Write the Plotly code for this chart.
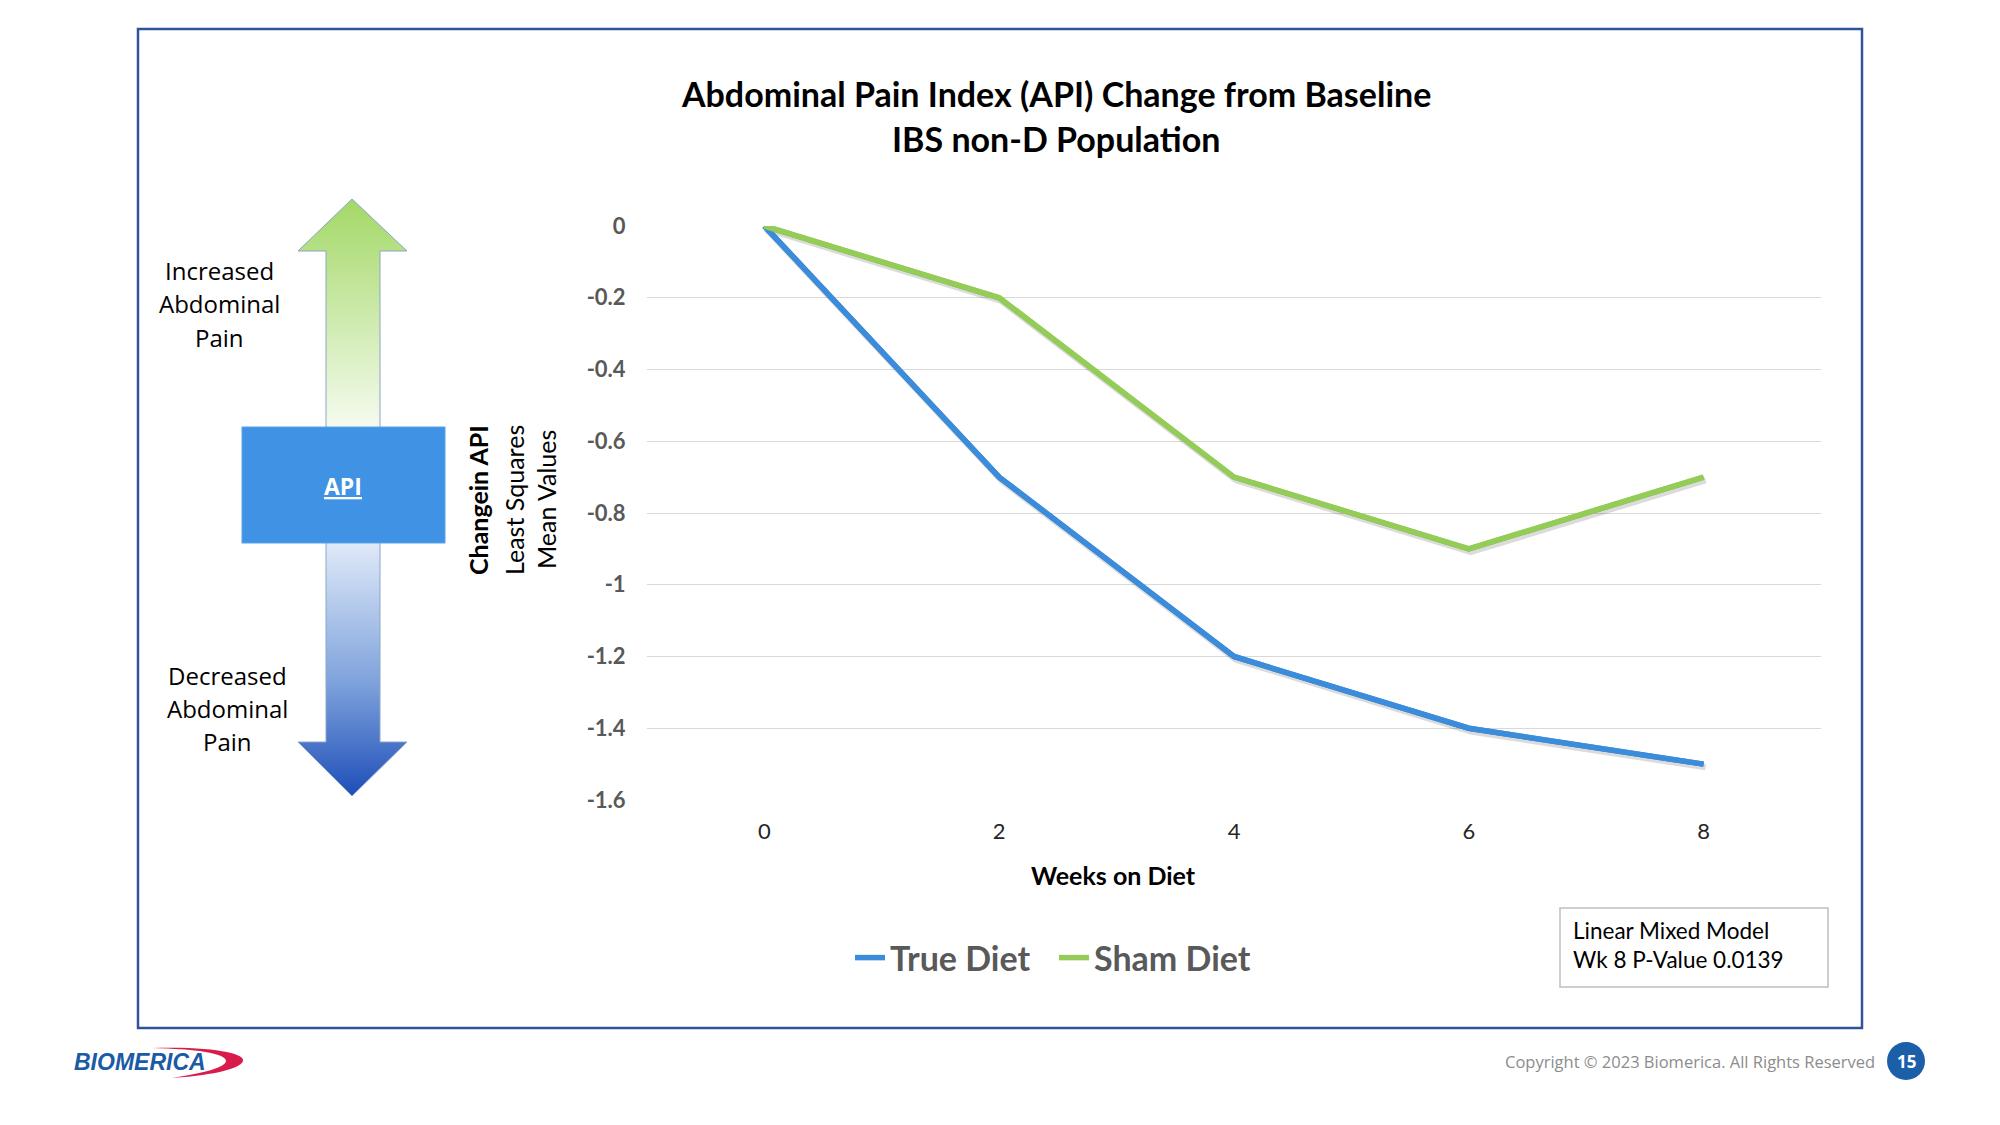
import base64
import plotly.graph_objects as go

# ---------------- data ----------------
weeks = [0, 2, 4, 6, 8]
true_diet = [0, -0.7, -1.2, -1.4, -1.5]
sham_diet = [0, -0.2, -0.7, -0.9, -0.7]
y_ticks = [0, -0.2, -0.4, -0.6, -0.8, -1.0, -1.2, -1.4, -1.6]
y_tick_labels = ["0", "-0.2", "-0.4", "-0.6", "-0.8", "-1", "-1.2", "-1.4", "-1.6"]
series_names = ["True Diet", "Sham Diet"]
series_colors = ["#3C8CDC", "#94CC58"]

W, H = 2000, 1125
FONT = "Lato"


def px(x):
    return x / W


def py(y):
    return 1 - y / H


fig = go.Figure()
series = [true_diet, sham_diet]
legends = ["legend", "legend2"]
# main axes: the series with legend entries
for vals, name, col, lg in zip(series, series_names, series_colors, legends):
    fig.add_trace(go.Scatter(x=weeks, y=vals, mode="lines", name=name,
                             line=dict(color=col, width=5.5), cliponaxis=False, legend=lg))
# soft drop shadow (same data on an overlay axis pair shifted by a few pixels)
for vals in series:
    fig.add_trace(go.Scatter(x=weeks, y=vals, mode="lines", xaxis="x2", yaxis="y2",
                             line=dict(color="rgba(0,0,0,0.14)", width=6.5),
                             showlegend=False, hoverinfo="skip", cliponaxis=False))
# the series again on top of the shadow
for vals, col in zip(series, series_colors):
    fig.add_trace(go.Scatter(x=weeks, y=vals, mode="lines", xaxis="x3", yaxis="y3",
                             line=dict(color=col, width=5.5), showlegend=False,
                             hoverinfo="skip", cliponaxis=False))

# decorative arrows / box / logo swoosh as an inline svg
svg = f'''<svg xmlns="http://www.w3.org/2000/svg" width="{W}" height="{H}" viewBox="0 0 {W} {H}">
<defs>
<linearGradient id="g1" x1="0" y1="0" x2="0" y2="1">
<stop offset="0" stop-color="#A3D866"/><stop offset="1" stop-color="#F5FBEF"/></linearGradient>
<linearGradient id="g2" x1="0" y1="0" x2="0" y2="1">
<stop offset="0" stop-color="#E0EAF8"/><stop offset="0.55" stop-color="#7FA3DC"/><stop offset="1" stop-color="#1E4EB8"/></linearGradient>
</defs>
<polygon points="352,199 407,251 380,251 380,428 326,428 326,251 298,251" fill="url(#g1)" stroke="#8AA6C6" stroke-width="1"/>
<polygon points="326,542 380,542 380,742 407,742 352,796 298,742 326,742" fill="url(#g2)" stroke="#8AA6C6" stroke-width="1"/>
<rect x="242" y="427" width="203" height="116" fill="#3F92E4" stroke="#5DA3EA" stroke-width="1"/>
<path d="M 152 1048 C 215 1046 246 1054 243 1061 C 240 1070 205 1076 172 1078 C 205 1073 226 1067 226 1061 C 226 1053 195 1049 152 1048 Z" fill="#D81B4B"/>
</svg>'''
src = "data:image/svg+xml;base64," + base64.b64encode(svg.encode()).decode()
fig.add_layout_image(dict(source=src, xref="paper", yref="paper", x=0, y=1, sizex=1, sizey=1,
                          xanchor="left", yanchor="top", sizing="stretch", layer="below"))

shapes = [
    # outer frame
    dict(type="rect", xref="paper", yref="paper", x0=px(138), x1=px(1862), y0=py(1028), y1=py(29),
         line=dict(color="#2E5597", width=2.5), fillcolor="rgba(0,0,0,0)"),
    # p-value box
    dict(type="rect", xref="paper", yref="paper", x0=px(1560), x1=px(1828), y0=py(987), y1=py(908),
         line=dict(color="#BFBFBF", width=1.5), fillcolor="white"),
    # page number circle
    dict(type="circle", xref="paper", yref="paper", x0=px(1887), x1=px(1925), y0=py(1080), y1=py(1042),
         line=dict(color="#1B5FA8", width=0), fillcolor="#1B5FA8"),
]

ann = []


def A(text, x, y, size, color="#000000", family=FONT, xanchor="center", angle=0, **kw):
    ann.append(dict(text=text, x=px(x), y=py(y), xref="paper", yref="paper", showarrow=False,
                    xanchor=xanchor, yanchor="middle", textangle=angle,
                    font=dict(size=size, color=color, family=family), **kw))


A("<b>Abdominal Pain Index (API) Change from Baseline</b>", 1056, 93, 34)
A("<b>IBS non-D Population</b>", 1056, 138, 34)
for t, yy in zip(["Increased", "Abdominal", "Pain"], [270, 304, 337]):
    A(t, 219, yy, 24, family="Open Sans")
for t, yy in zip(["Decreased", "Abdominal", "Pain"], [675, 708, 741]):
    A(t, 227, yy, 24, family="Open Sans")
A("<b><u>API</u></b>", 343, 486, 23, color="white", family="Open Sans")
A("<b>Changein API</b>", 478, 500, 25, angle=-90)
A("Least Squares", 514, 500, 25, angle=-90)
A("Mean Values", 546, 500, 25, angle=-90)
A("<b>Weeks on Diet</b>", 1113, 875, 25)
A("Linear Mixed Model", 1571, 930, 22.5, xanchor="left")
A("Wk 8 P-Value 0.0139", 1571, 959, 22.5, xanchor="left")
A("Copyright © 2023 Biomerica. All Rights Reserved", 1877, 1061, 16.5, color="#8C8C8C",
  family="Open Sans", xanchor="right")
A("<b>15</b>", 1906, 1061, 17, color="white", family="Open Sans")
A("<b><i>BIOMERICA</i></b>", 140, 1062, 23, color="#1B5AA5", family="Liberation Sans")

legend_font = dict(size=34, color="#595959", family=FONT, weight="bold")
xdom = [px(647), px(1821)]
ydom = [py(800), py(226)]
fig.update_layout(
    width=W, height=H, margin=dict(l=0, r=0, t=0, b=0, pad=0, autoexpand=False),
    paper_bgcolor="white", plot_bgcolor="rgba(0,0,0,0)",
    font=dict(family=FONT, color="#000000"),
    shapes=shapes, annotations=ann,
    showlegend=True,
    legend=dict(orientation="h", x=px(850), y=py(958), xanchor="left", yanchor="middle",
                font=legend_font, bgcolor="rgba(0,0,0,0)", itemwidth=30),
    legend2=dict(orientation="h", x=px(1054), y=py(958), xanchor="left", yanchor="middle",
                 font=legend_font, bgcolor="rgba(0,0,0,0)", itemwidth=30),
    xaxis=dict(domain=xdom, range=[-1, 9], tickvals=weeks,
               ticktext=[str(w) for w in weeks], showgrid=False, zeroline=False,
               showline=False, ticks="outside", ticklen=12, tickcolor="rgba(0,0,0,0)",
               automargin=False,
               tickfont=dict(size=22, color="#262626", family=FONT)),
    yaxis=dict(domain=ydom, range=[-1.6, 0], tickvals=y_ticks,
               ticktext=["<b>%s</b>" % t for t in y_tick_labels], showgrid=True,
               gridcolor="#D9D9D9", gridwidth=1.3, automargin=False,
               zeroline=False, showline=False, ticks="outside", ticklen=16,
               tickcolor="rgba(0,0,0,0)",
               tickfont=dict(size=22, color="#595959", family=FONT)),
    xaxis2=dict(domain=[px(649), px(1823)], range=[-1, 9], visible=False, anchor="y2"),
    yaxis2=dict(domain=[py(803), py(229)], range=[-1.6, 0], visible=False, anchor="x2"),
    xaxis3=dict(domain=xdom, range=[-1, 9], visible=False, anchor="y3"),
    yaxis3=dict(domain=ydom, range=[-1.6, 0], visible=False, anchor="x3"),
)

post = ("document.body.style.margin='0';"
        "var d=document.getElementById('{plot_id}');"
        "d.style.position='absolute';d.style.left='0px';d.style.top='0px';")
fig.write_html("out.html", post_script=post, config={"displayModeBar": False})
